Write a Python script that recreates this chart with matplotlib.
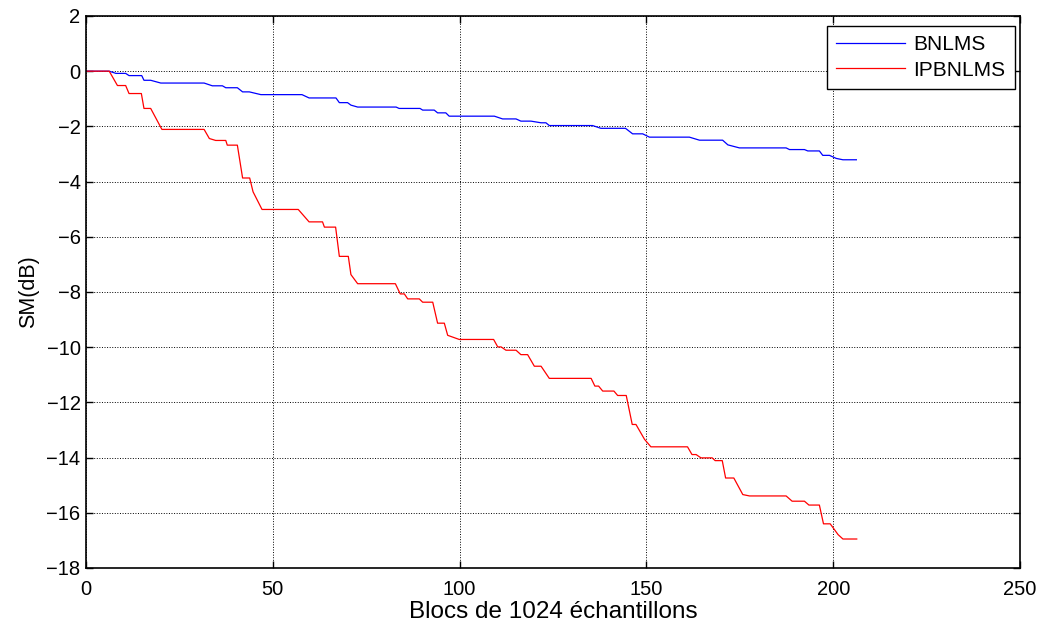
import matplotlib
matplotlib.use("Agg")
import matplotlib.pyplot as plt

plt.rcParams['font.family'] = ['Liberation Sans', 'DejaVu Sans']

# Breakpoints of the staircase curves (block index, SM in dB)
bnlms_x = [0, 6.2, 8.0, 10.6, 11.5, 14.9, 15.5, 17.3, 20.0, 31.6, 33.8, 36.5, 37.4, 40.5,
           41.9, 43.7, 46.8, 57.8, 59.7, 66.9, 67.8, 70.0, 70.9, 72.7, 83.0, 83.8, 89.4,
           90.1, 93.2, 94.1, 96.3, 97.2, 109.3, 111.5, 115.1, 116.4, 119.1, 121.8, 123.1,
           124.0, 135.6, 137.8, 144.4, 146.3, 149.0, 150.8, 161.5, 164.2, 170.4, 171.8,
           174.9, 187.4, 188.3, 192.3, 193.2, 196.3, 197.2, 199.0, 200.8, 202.6, 206.2]
bnlms_y = [0, 0, -0.08, -0.08, -0.16, -0.16, -0.33, -0.33, -0.43, -0.43, -0.53, -0.53,
           -0.60, -0.60, -0.75, -0.75, -0.85, -0.85, -0.97, -0.97, -1.14, -1.14, -1.23,
           -1.30, -1.30, -1.35, -1.35, -1.41, -1.41, -1.51, -1.51, -1.63, -1.63, -1.73,
           -1.73, -1.81, -1.81, -1.87, -1.87, -1.97, -1.97, -2.07, -2.07, -2.27, -2.27,
           -2.39, -2.39, -2.50, -2.50, -2.67, -2.78, -2.78, -2.84, -2.84, -2.89, -2.89,
           -3.05, -3.05, -3.16, -3.21, -3.21]

ipbnlms_x = [0, 6.2, 8.4, 10.6, 11.5, 14.8, 15.5, 17.3, 20.3, 31.6, 33.0, 34.7, 37.4, 37.8,
             40.5, 41.9, 43.8, 44.7, 47.1, 56.8, 59.7, 63.3, 63.8, 66.8, 67.8, 70.2, 70.9,
             72.7, 82.8, 84.1, 85.2, 86.1, 89.2, 90.1, 92.8, 94.1, 95.9, 96.8, 99.9, 109.1,
             110.2, 111.1, 112.4, 115.1, 116.4, 118.2, 120.0, 121.8, 124.0, 135.2, 136.2,
             137.2, 138.3, 141.3, 142.3, 144.6, 146.2, 147.2, 149.5, 151.2, 161.0, 162.2,
             163.3, 164.6, 167.6, 168.4, 170.3, 171.2, 173.4, 175.8, 177.6, 187.4, 189.0,
             192.3, 193.5, 196.3, 197.4, 199.2, 201.3, 202.6, 206.3]
ipbnlms_y = [0, 0, -0.52, -0.52, -0.81, -0.81, -1.35, -1.35, -2.11, -2.11, -2.44, -2.51,
             -2.51, -2.68, -2.68, -3.87, -3.87, -4.37, -5.01, -5.01, -5.46, -5.46, -5.65,
             -5.65, -6.71, -6.71, -7.37, -7.70, -7.70, -8.07, -8.07, -8.25, -8.25, -8.37,
             -8.37, -9.13, -9.13, -9.57, -9.72, -9.72, -9.99, -9.99, -10.11, -10.11,
             -10.27, -10.27, -10.69, -10.69, -11.13, -11.13, -11.41, -11.41, -11.59,
             -11.59, -11.75, -11.75, -12.80, -12.80, -13.34, -13.61, -13.61, -13.89,
             -13.89, -14.01, -14.01, -14.11, -14.11, -14.74, -14.74, -15.34, -15.39,
             -15.39, -15.58, -15.58, -15.72, -15.72, -16.40, -16.40, -16.79, -16.95, -16.95]

xticks = [0, 50, 100, 150, 200, 250]
yticks = [2, 0, -2, -4, -6, -8, -10, -12, -14, -16, -18]

fig = plt.figure(figsize=(10.47, 6.29), dpi=100)
ax = fig.add_axes([0.0822, 0.097, 0.8920, 0.8776])

ax.plot(bnlms_x, bnlms_y, color='blue', lw=0.9, label='BNLMS')
ax.plot(ipbnlms_x, ipbnlms_y, color='red', lw=0.9, label='IPBNLMS')

ax.set_xlim(0, 250)
ax.set_ylim(-18, 2)
ax.set_xticks(xticks)
ax.set_yticks(yticks)
ax.tick_params(direction='in', top=True, right=True, labelsize=14.5, length=5, width=1)
ax.tick_params(axis='x', pad=9)
ax.tick_params(axis='y', pad=4)
ax.grid(True, color='black', linestyle=':', linewidth=0.7)
for sp in ax.spines.values():
    sp.set_linewidth(1.2)

ax.set_xlabel('Blocs de 1024 échantillons', fontsize=17.5, labelpad=1)
ax.set_ylabel('SM(dB)', fontsize=15.5, labelpad=5)

leg = ax.legend(loc='upper right', bbox_to_anchor=(1015 / 1047, 1 - 26 / 629),
                bbox_transform=fig.transFigure, borderaxespad=0,
                fontsize=15, fancybox=False, framealpha=1, edgecolor='black',
                handlelength=3.3, handletextpad=0.4, labelspacing=0.3, borderpad=0.45)
leg.get_frame().set_linewidth(1.0)

fig.savefig('out.png', dpi=100)
